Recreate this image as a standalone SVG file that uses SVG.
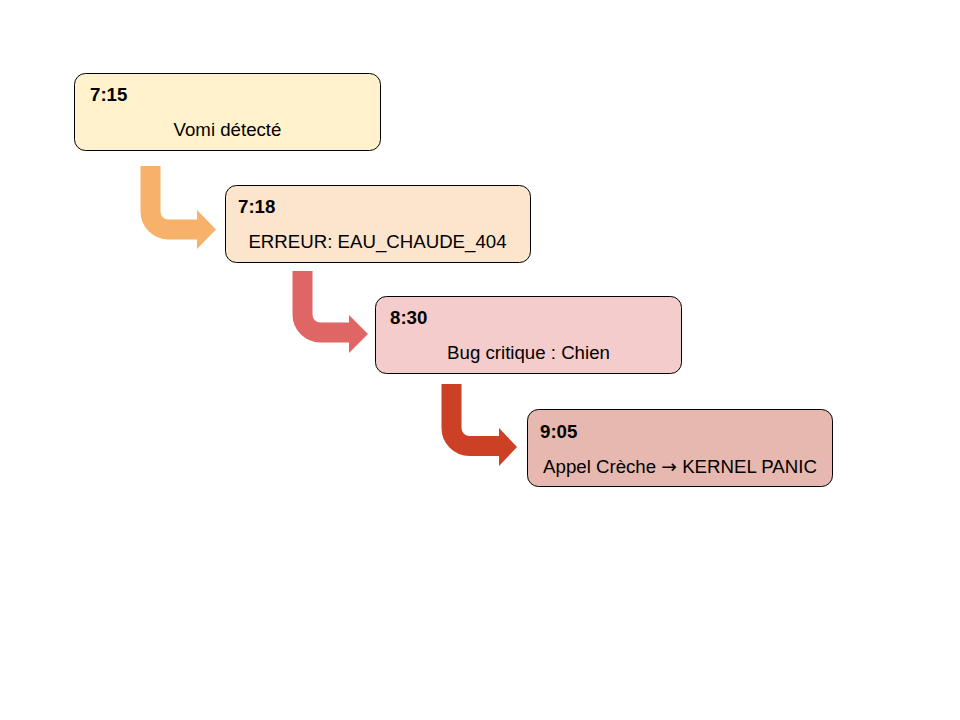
<svg xmlns="http://www.w3.org/2000/svg" width="960" height="720" viewBox="0 0 960 720">
<style>
.box{stroke:#000;stroke-width:1}
.t{font-family:"Liberation Sans",Arial,sans-serif;font-size:18.67px;font-weight:bold;fill:#000}
.b{font-family:"Liberation Sans",Arial,sans-serif;font-size:18.67px;fill:#000;text-anchor:middle}
.arr{font-family:"DejaVu Sans",sans-serif}
.shaft{fill:none;stroke-width:20;stroke-linecap:butt;stroke-linejoin:round}
</style>
<rect width="960" height="720" fill="#fff"/>
<g id="connectors">
  <g id="arrow1">
    <path class="shaft" stroke="#F6B26B" d="M150.5,166 V211.5 A18,18 0 0 0 168.5,229.5 H198"/>
    <polygon fill="#F6B26B" points="197,210 216,229.5 197,249"/>
  </g>
  <g id="arrow2">
    <path class="shaft" stroke="#E06666" d="M302.5,271 V314.5 A18,18 0 0 0 320.5,332.5 H350"/>
    <polygon fill="#E06666" points="349,315 368,334 349,353"/>
  </g>
  <g id="arrow3">
    <path class="shaft" stroke="#CC4125" d="M451.5,384 V428 A18,18 0 0 0 469.5,446 H500"/>
    <polygon fill="#CC4125" points="499,428 517,447 499,466"/>
  </g>
</g>
<g id="node1">
  <rect class="box" x="74.5" y="73.5" width="306" height="77" rx="11" fill="#FFF2CC"/>
  <text class="t" x="90" y="101">7:15</text>
  <text class="b" x="227.5" y="136">Vomi détecté</text>
</g>
<g id="node2">
  <rect class="box" x="225.5" y="185.5" width="305" height="77" rx="11" fill="#FCE5CD"/>
  <text class="t" x="238" y="213">7:18</text>
  <text class="b" x="377.5" y="248">ERREUR: EAU_CHAUDE_404</text>
</g>
<g id="node3">
  <rect class="box" x="375.5" y="296.5" width="306" height="77" rx="11" fill="#F4CCCC"/>
  <text class="t" x="390" y="324">8:30</text>
  <text class="b" x="528.5" y="359">Bug critique : Chien</text>
</g>
<g id="node4">
  <rect class="box" x="527.5" y="409.5" width="305" height="77" rx="11" fill="#E6B8AF"/>
  <text class="t" x="540" y="438">9:05</text>
  <text class="b" x="680" y="473">Appel Crèche <tspan class="arr">→</tspan> KERNEL PANIC</text>
</g>
</svg>
